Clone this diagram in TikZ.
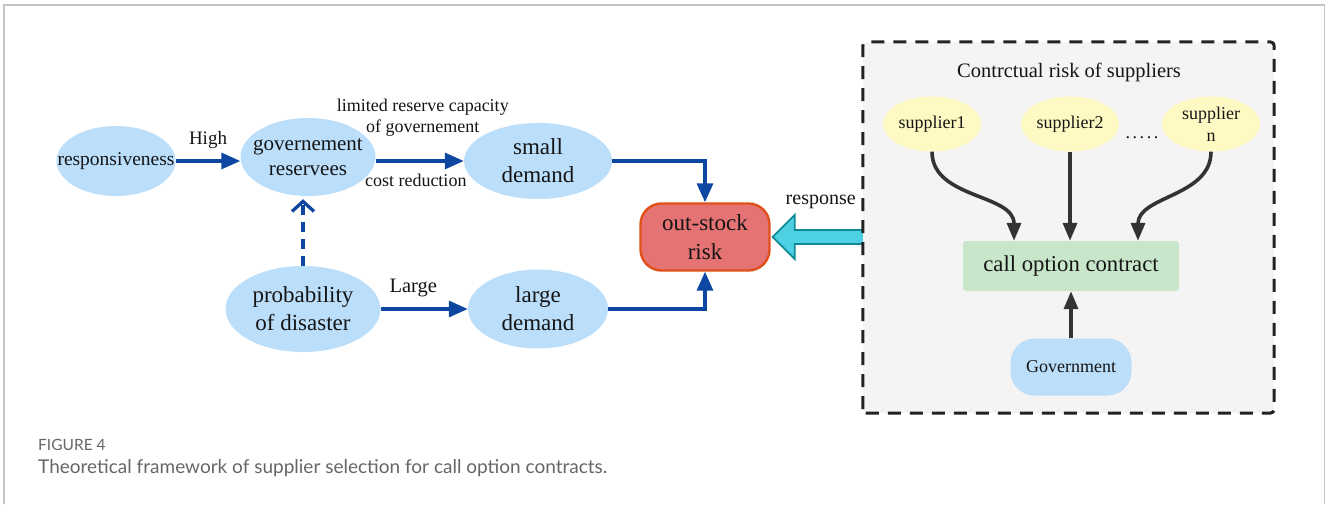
\documentclass[tikz,border=0pt]{standalone}
\usepackage{fontspec}
\setmainfont{Liberation Serif}
\newfontfamily\capfont{Lato}
\usetikzlibrary{shapes.geometric,arrows.meta,calc}

\definecolor{nodeblue}{HTML}{BBDEFB}
\definecolor{linkblue}{HTML}{0D47A1}
\definecolor{riskfill}{HTML}{E57373}
\definecolor{riskedge}{HTML}{E0501A}
\definecolor{cyanfill}{HTML}{4DD0E1}
\definecolor{cyanedge}{HTML}{0E8A96}
\definecolor{panelfill}{HTML}{F4F4F4}
\definecolor{paneledge}{HTML}{222222}
\definecolor{supfill}{HTML}{FFF9C4}
\definecolor{contractfill}{HTML}{C8E6C9}
\definecolor{darkarrow}{HTML}{333333}
\definecolor{captiongray}{HTML}{666666}
\definecolor{framegray}{HTML}{C4C4C4}
\definecolor{inkblack}{HTML}{151515}

\newcommand\fs[2]{\fontsize{#1pt}{#2pt}\selectfont}

\begin{document}
\begin{tikzpicture}[x=1pt,y=-1pt,
  ell/.style={ellipse, fill=nodeblue, inner sep=0pt},
  supell/.style={ellipse, fill=supfill, inner sep=0pt, minimum width=98pt, minimum height=55pt},
  txt/.style={align=center, inner sep=0pt, text=inkblack},
  bluelink/.style={draw=linkblue, line width=3.3pt, -{Triangle[length=19pt,width=16pt]}},
  bluedash/.style={draw=linkblue, line width=3.3pt, dash pattern=on 10pt off 7pt,
     -{Straight Barb[length=10pt,width=22pt,line width=3.3pt]}},
  darklink/.style={draw=darkarrow, line width=3.6pt, -{Triangle[length=18pt,width=14pt]}},
  cyanarrow/.style={fill=cyanfill, draw=cyanedge, line width=1.8pt, line join=miter},
]
\useasboundingbox (0,0) rectangle (1328,504);

% outer frame (open at the bottom)
\draw[framegray, line width=1.5pt] (4,504) -- (4,5) -- (1324.5,5) -- (1324.5,504);

% ---- left part: demand chain ----
\node[ell, minimum width=119pt, minimum height=70pt] (resp) at (116,161) {};
\node[txt, font=\fs{19.5}{23}] at (resp) {responsiveness};

\node[ell, minimum width=135pt, minimum height=78pt] (gov) at (308,157) {};
\node[txt, font=\fs{21}{25}] at (gov) {governement\\reservees};

\node[ell, minimum width=148pt, minimum height=76pt] (small) at (538,161) {};
\node[txt, font=\fs{23}{28}] at (small) {small\\demand};

\node[ell, minimum width=155pt, minimum height=86pt] (prob) at (303,309) {};
\node[txt, font=\fs{23}{28}] at (prob) {probability\\of disaster};

\node[ell, minimum width=140pt, minimum height=79pt] (large) at (538,309) {};
\node[txt, font=\fs{23}{28}] at (large) {large\\demand};

\node[rectangle, rounded corners=21pt, fill=riskfill, draw=riskedge, line width=2.4pt,
      minimum width=129pt, minimum height=67pt, inner sep=0pt] (risk) at (705,237) {};
\node[txt, font=\fs{23}{29}] at (risk) {out-stock\\risk};

% connectors of the demand chain
\draw[bluelink] (resp.east) -- (gov.west |- resp.east)
  node[midway, yshift=21pt, txt, font=\fs{19}{23}] {High};
\draw[bluelink] (gov.east |- small.west) -- (small.west)
  node[midway, xshift=3pt, yshift=43pt, txt, font=\fs{18}{21}] {limited reserve capacity\\of governement}
  node[midway, xshift=-4pt, yshift=-19pt, txt, font=\fs{18}{21}] {cost reduction};
\draw[bluedash, shorten >=3pt] (prob.north) -- (prob.north |- gov.south);
\draw[bluelink] (prob.east) -- (large.west)
  node[midway, xshift=-11pt, yshift=21pt, txt, font=\fs{20.5}{24}] {Large};
\draw[bluelink] (small.east) -| (risk.north);
\draw[bluelink] (large.east) -| (risk.south);

% ---- right part: contractual risk panel ----
\node[rectangle, fill=panelfill, rounded corners=4pt, minimum width=411pt, minimum height=371pt,
      inner sep=0pt] (panel) at (1068.5,227.5) {};
\node[txt, font=\fs{20.5}{24}] (title) at (1069,72) {Contrctual risk of suppliers};

\node[supell] (s1) at (932,124) {};
\node[txt, font=\fs{18}{22}] at (s1) {supplier1};
\node[supell] (s2) at (1070,124) {};
\node[txt, font=\fs{18}{22}] at (s2) {supplier2};
\node[supell] (sn) at (1211,124) {};
\node[txt, font=\fs{18}{22}] at (sn) {supplier\\n};
\node[txt, anchor=base, font=\fs{18}{22}] (dots) at (1142,138)
  {.\kern2.6pt.\kern2.6pt.\kern2.6pt.\kern2.6pt.};

\node[rectangle, fill=contractfill, rounded corners=3pt, minimum width=216pt, minimum height=50pt,
      inner sep=0pt] (coc) at (1071,266) {};
\node[txt, font=\fs{22.7}{27}] at (coc) {call option contract};

\node[rectangle, fill=nodeblue, rounded corners=24pt, minimum width=121pt, minimum height=57pt,
      inner sep=0pt] (govt) at (1071,367) {};
\node[txt, font=\fs{18}{22}] at (govt) {Government};

\draw[darklink] (s1.south) to[out=-90, in=90] ($(coc.north)+(-57,0)$);
\draw[darklink] (s2.south) -- (s2.south |- coc.north);
\draw[darklink] (sn.south) to[out=-90, in=90] ($(coc.north)+(67,0)$);
\draw[darklink] (govt.north) -- (coc.south);

% response arrow from the panel to the out-stock risk
\coordinate (tip) at ($(risk.east)+(2,0)$);
\path[cyanarrow] ($(tip -| panel.west)+(0,-7)$) -- ($(tip)+(22,-7)$) -- ($(tip)+(22,-22)$)
  -- (tip) -- ($(tip)+(22,22)$) -- ($(tip)+(22,7)$) -- ($(tip -| panel.west)+(0,7)$);
\node[txt, font=\fs{20}{24}] at ($(tip)+(48,-35)$) {response};

% dashed border of the panel
\draw[paneledge, line width=3pt, dash pattern=on 13pt off 9pt, rounded corners=4pt]
  (panel.south west) rectangle (panel.north east);

% caption
\node[anchor=west, inner sep=0pt, text=captiongray, font=\capfont\fs{15.5}{18}] (figno) at (38,445) {FIGURE 4};
\node[anchor=west, inner sep=0pt, text=captiongray, font=\capfont\fs{19}{23}] (caption) at (38,468)
  {Theoretical framework of supplier selection for call option contracts.};
\end{tikzpicture}
\end{document}
